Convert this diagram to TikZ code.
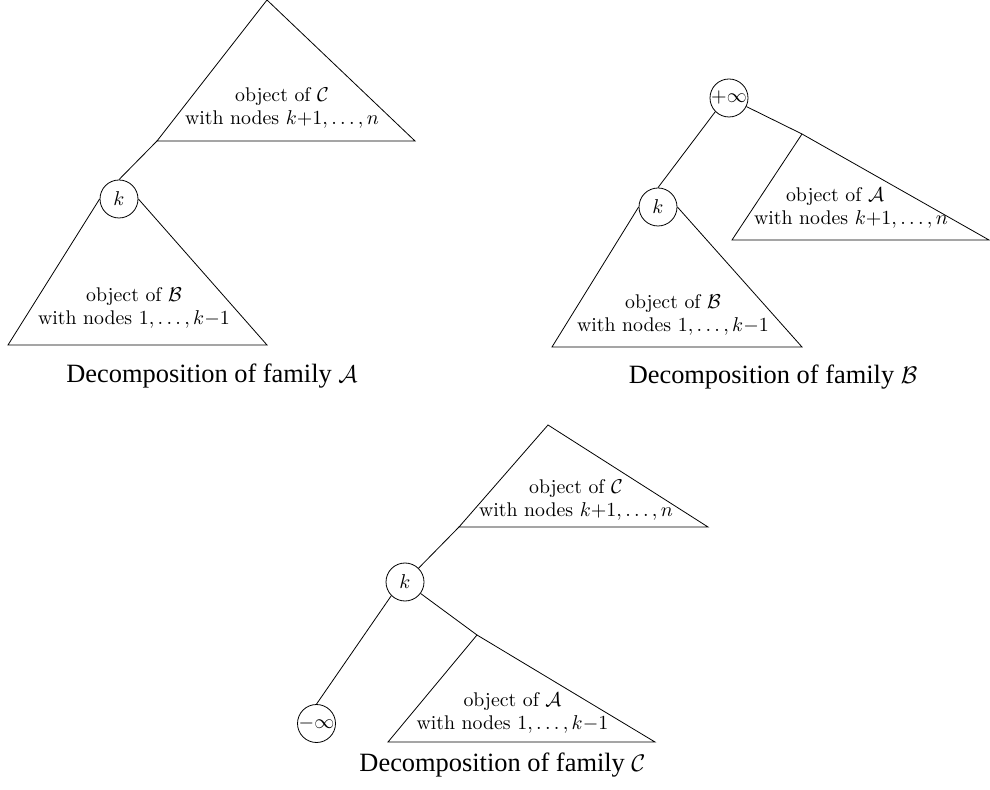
\documentclass[tikz,border=0pt]{standalone}
\usepackage{fontspec}
\newfontfamily\capfont{Liberation Serif}
\tikzset{
  vertex/.style={draw,circle,inner sep=0pt,minimum size=19pt},
  inside/.style={align=center,font=\fontsize{9.9}{11.8}\selectfont},
  famcaption/.style={font=\capfont\fontsize{13.2}{16}\selectfont}
}

\begin{document}
\begin{tikzpicture}[x=0.5pt,y=-0.5pt]
\useasboundingbox (0,0) rectangle (990,790);
% family A
\node[vertex] (kA) at (119,199) {$k$};
\coordinate (cA) at (157,141);
\draw (267,0) -- (415,141) -- (cA) -- cycle;
\draw (kA.north) -- (cA);
\draw (kA.west) -- (8,345) -- (267,345) -- (kA.east);
\node[inside] (txtCA) at (282,108) {object of $\mathcal{C}$\\with nodes $k{+}1,\ldots,n$};
\node[inside] (txtBA) at (134,308) {object of $\mathcal{B}$\\with nodes $1,\ldots,k{-}1$};
\node[famcaption] (capA) at (212,376) {Decomposition of family $\mathcal{A}$};
% family B
\node[vertex] (inf) at (729,98) {$+\infty$};
\node[vertex] (kB) at (658,207) {$k$};
\coordinate (aB) at (802,134);
\draw (inf.south west) -- (kB.north);
\draw (inf) -- (aB);
\draw (aB) -- (989,240) -- (732,240) -- cycle;
\draw (kB.west) -- (552,347) -- (802,347) -- (kB.east);
\node[inside] (txtAB) at (835,208) {object of $\mathcal{A}$\\\hspace*{16pt}with nodes $k{+}1,\ldots,n$};
\node[inside] (txtBB) at (673,315) {object of $\mathcal{B}$\\with nodes $1,\ldots,k{-}1$};
\node[famcaption] (capB) at (773,377) {Decomposition of family $\mathcal{B}$};
% family C
\node[vertex] (kC) at (405,582) {$k$};
\node[vertex] (minf) at (316.5,723.5) {$-\infty$};
\coordinate (cC) at (459,527);
\coordinate (aC) at (477,635);
\draw (548,425) -- (708,527) -- (cC) -- cycle;
\draw (kC) -- (cC);
\draw (kC) -- (aC);
\draw (aC) -- (655,742) -- (388,742) -- cycle;
\draw (kC.south west) -- (minf.north);
\node[inside] (txtCC) at (576,500) {object of $\mathcal{C}$\\with nodes $k{+}1,\ldots,n$};
\node[inside] (txtAC) at (512.5,713) {object of $\mathcal{A}$\\with nodes $1,\ldots,k{-}1$};
\node[famcaption] (capC) at (502.5,765) {Decomposition of family $\mathcal{C}$};
\end{tikzpicture}
\end{document}
